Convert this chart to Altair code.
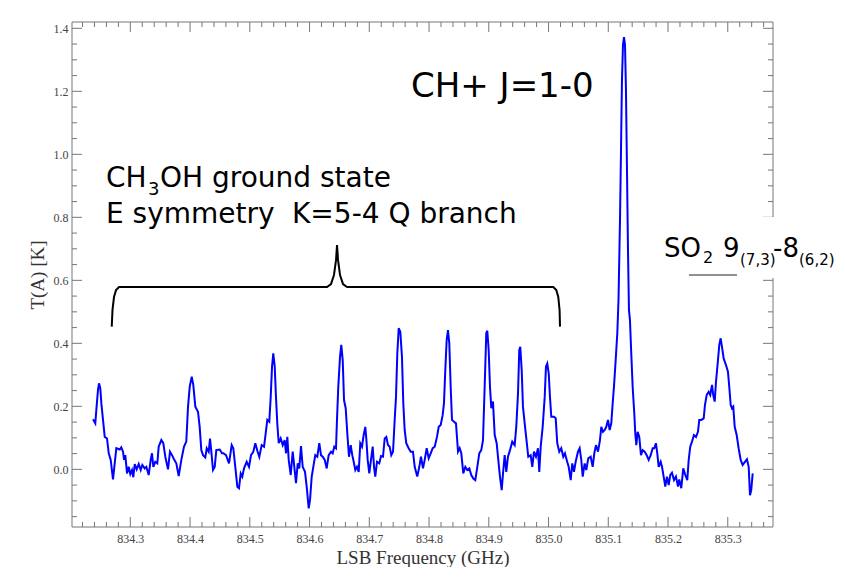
import altair as alt
import pandas as pd

# ---------------- data ----------------
freq = [
    834.2376, 834.2414, 834.2431, 834.2459, 834.2476, 834.2498, 834.2515, 834.2543, 834.2572, 834.2610,
    834.2639, 834.2672, 834.2710, 834.2739, 834.2766, 834.2823, 834.2849, 834.2878, 834.2895, 834.2916,
    834.2945, 834.2973, 834.3000, 834.3028, 834.3050, 834.3074, 834.3107, 834.3141, 834.3174, 834.3201,
    834.3241, 834.3268, 834.3308, 834.3341, 834.3363, 834.3385, 834.3418, 834.3452, 834.3475, 834.3519,
    834.3552, 834.3586, 834.3631, 834.3664, 834.3698, 834.3731, 834.3770, 834.3810, 834.3854, 834.3899,
    834.3937, 834.3966, 834.3994, 834.4028, 834.4054, 834.4088, 834.4133, 834.4161, 834.4188, 834.4217,
    834.4255, 834.4279, 834.4312, 834.4334, 834.4356, 834.4384, 834.4413, 834.4439, 834.4496, 834.4535,
    834.4556,
    834.4602, 834.4652, 834.4697, 834.4724, 834.4757, 834.4791, 834.4819, 834.4848, 834.4874, 834.4903,
    834.4948, 834.4987, 834.5020, 834.5059, 834.5092, 834.5126, 834.5159, 834.5199, 834.5238, 834.5266,
    834.5293, 834.5326, 834.5350, 834.5372, 834.5393, 834.5417, 834.5438, 834.5460, 834.5484, 834.5517,
    834.5551, 834.5584, 834.5606, 834.5628, 834.5651, 834.5685, 834.5718, 834.5745, 834.5773, 834.5802,
    834.5828, 834.5857, 834.5885, 834.5924, 834.5952, 834.5986, 834.6008, 834.6036, 834.6063, 834.6096,
    834.6130, 834.6163, 834.6192, 834.6220, 834.6254, 834.6287, 834.6320, 834.6359, 834.6387, 834.6414,
    834.6443, 834.6459, 834.6481, 834.6510, 834.6531, 834.6555, 834.6577, 834.6605, 834.6632, 834.6660,
    834.6689, 834.6715,
    834.6739, 834.6766, 834.6794, 834.6823, 834.6849, 834.6878, 834.6906, 834.6933, 834.6950, 834.6973,
    834.7000, 834.7028, 834.7057, 834.7079, 834.7100, 834.7129, 834.7167, 834.7196, 834.7229, 834.7258,
    834.7285, 834.7313, 834.7341, 834.7368, 834.7397, 834.7425, 834.7447, 834.7469, 834.7492, 834.7519,
    834.7547, 834.7569, 834.7592, 834.7619, 834.7659, 834.7693, 834.7731, 834.7760, 834.7803, 834.7837,
    834.7865, 834.7899, 834.7927, 834.7961, 834.7994, 834.8028, 834.8061, 834.8095, 834.8133, 834.8162,
    834.8195, 834.8228, 834.8250, 834.8272, 834.8295, 834.8317, 834.8339, 834.8362, 834.8384, 834.8418,
    834.8451, 834.8485, 834.8513, 834.8540, 834.8573, 834.8607, 834.8640, 834.8674, 834.8707, 834.8741,
    834.8774, 834.8808, 834.8841, 834.8874, 834.8903, 834.8931, 834.8958,
    834.8975, 834.8998, 834.9020, 834.9042, 834.9070, 834.9099, 834.9132, 834.9159, 834.9187, 834.9216,
    834.9243, 834.9266, 834.9293, 834.9321, 834.9355, 834.9393, 834.9433, 834.9460, 834.9489, 834.9510,
    834.9527, 834.9551, 834.9572, 834.9601, 834.9628, 834.9661, 834.9701, 834.9728, 834.9757, 834.9790,
    834.9823, 834.9845, 834.9869, 834.9902, 834.9936, 834.9957, 834.9979, 835.0003, 835.0024, 835.0046,
    835.0091, 835.0120, 835.0146, 835.0180, 835.0213, 835.0247, 835.0275, 835.0304, 835.0337, 835.0371,
    835.0397, 835.0426, 835.0454, 835.0493, 835.0521, 835.0548, 835.0572, 835.0605, 835.0632, 835.0665,
    835.0705, 835.0739, 835.0766, 835.0794, 835.0828, 835.0861, 835.0883, 835.0911, 835.0940, 835.0967,
    835.0995, 835.1023, 835.1050, 835.1074, 835.1095, 835.1124, 835.1151, 835.1171, 835.1196, 835.1213,
    835.1229, 835.1246, 835.1263, 835.1280, 835.1296, 835.1313, 835.1330, 835.1346, 835.1363, 835.1380,
    835.1408, 835.1435, 835.1452, 835.1469, 835.1492, 835.1519, 835.1547, 835.1576, 835.1609, 835.1643,
    835.1676, 835.1710, 835.1743, 835.1770, 835.1798, 835.1820, 835.1844, 835.1877, 835.1899, 835.1927,
    835.1954, 835.1982, 835.2011, 835.2038, 835.2066, 835.2100, 835.2133, 835.2167, 835.2188, 835.2222,
    835.2255, 835.2289, 835.2322, 835.2346, 835.2372, 835.2401, 835.2434, 835.2468, 835.2501, 835.2523,
    835.2556, 835.2597, 835.2618, 835.2647, 835.2680, 835.2707, 835.2736, 835.2757, 835.2781, 835.2803,
    835.2831, 835.2858, 835.2881, 835.2903, 835.2931, 835.2970, 835.3003, 835.3025, 835.3049, 835.3070,
    835.3092, 835.3116, 835.3149, 835.3182, 835.3216, 835.3249, 835.3288, 835.3321, 835.3350, 835.3372,
    835.3393, 835.3417,
]

temp = [
    0.159, 0.146, 0.188, 0.252, 0.273, 0.257, 0.210, 0.157, 0.103, 0.098,
    0.051, 0.030, -0.032, 0.019, 0.067, 0.063, 0.070, 0.056, 0.030, 0.045,
    -0.013, 0.008, -0.015, -0.002, -0.025, 0.017, 0.000, 0.017, -0.002, 0.014,
    0.003, 0.008, -0.018, 0.030, 0.051, 0.008, 0.024, 0.019, 0.072, 0.093,
    0.083, 0.040, 0.000, 0.056, 0.045, 0.032, 0.019, -0.021, 0.030, 0.072,
    0.088, 0.199, 0.262, 0.294, 0.268, 0.199, 0.183, 0.135, 0.061, 0.045,
    0.038, 0.067, 0.056, 0.098, 0.056, -0.002, 0.008, 0.061, 0.063, 0.051,
    0.051,
    0.045, 0.019, 0.077, 0.067, 0.008, -0.055, -0.060, -0.013, -0.023, 0.003,
    0.024, 0.008, 0.045, 0.056, 0.083, 0.059, 0.040, 0.077, 0.072, 0.114,
    0.157, 0.151, 0.230, 0.326, 0.368, 0.326, 0.230, 0.146, 0.083, 0.098,
    0.077, 0.093, 0.051, 0.103, 0.030, -0.018, 0.056, 0.008, -0.044, 0.019,
    0.003, 0.074, 0.008, -0.008, -0.055, -0.124, -0.097, -0.023, 0.008, 0.045,
    0.040, 0.083, 0.045, 0.040, 0.030, 0.003, 0.045, 0.056, 0.051, 0.072,
    0.067, 0.157, 0.262, 0.357, 0.395, 0.347, 0.220, 0.194, 0.114, 0.040,
    0.077, 0.045,
    0.024, -0.002, 0.008, -0.008, 0.083, 0.072, 0.109, 0.135, 0.098, 0.030,
    -0.013, 0.030, 0.072, 0.008, -0.023, 0.024, 0.019, 0.042, 0.040, 0.098,
    0.103, 0.077, 0.072, 0.045, 0.056, 0.157, 0.230, 0.368, 0.448, 0.437,
    0.357, 0.210, 0.125, 0.083, 0.067, 0.056, 0.056, 0.008, -0.023, 0.008,
    0.040, 0.003, 0.030, 0.067, 0.035, 0.051, 0.067, 0.072, 0.103, 0.135,
    0.141, 0.172, 0.210, 0.315, 0.410, 0.442, 0.400, 0.262, 0.157, 0.151,
    0.146, 0.056, 0.067, 0.051, -0.013, 0.008, -0.002, 0.003, -0.018, -0.029,
    -0.034, 0.008, 0.051, 0.061, 0.093, 0.262, 0.432,
    0.440, 0.379, 0.262, 0.194, 0.215, 0.109, 0.083, 0.030, -0.023, -0.066,
    -0.002, 0.045, -0.008, 0.040, 0.061, 0.088, 0.077, 0.135, 0.241, 0.379,
    0.389, 0.315, 0.199, 0.146, 0.098, 0.040, 0.045, 0.008, 0.056, 0.040,
    0.067, -0.008, 0.072, 0.135, 0.230, 0.326, 0.336, 0.305, 0.230, 0.167,
    0.167, 0.162, 0.083, 0.056, 0.067, 0.040, 0.051, 0.030, 0.008, -0.034,
    0.019, -0.008, 0.024, 0.056, 0.067, 0.030, -0.023, 0.019, -0.002, 0.035,
    0.040, 0.008, 0.051, 0.077, 0.056, 0.093, 0.135, 0.119, 0.125, 0.135,
    0.157, 0.125, 0.146, 0.210, 0.262, 0.347, 0.432, 0.537, 0.791, 1.014,
    1.236, 1.347, 1.372, 1.347, 1.204, 0.950, 0.696, 0.506, 0.474, 0.389,
    0.262, 0.178, 0.114, 0.077, 0.119, 0.103, 0.045, 0.061, 0.056, 0.045,
    0.030, 0.045, 0.067, 0.067, 0.083, 0.051, 0.008, 0.024, 0.008, -0.023,
    -0.055, -0.023, -0.050, -0.018, -0.011, -0.034, -0.023, -0.055, -0.032, -0.060,
    0.003, -0.018, -0.034, 0.030, 0.072, 0.088, 0.109, 0.103, 0.119, 0.157,
    0.157, 0.162, 0.204, 0.236, 0.246, 0.236, 0.268, 0.236, 0.215, 0.278,
    0.336, 0.395, 0.416, 0.389, 0.352, 0.331, 0.310, 0.262, 0.204, 0.194,
    0.199, 0.135, 0.109, 0.067, 0.030, 0.014, 0.024, 0.032, 0.008, -0.082,
    -0.066, -0.013,
]

# bracket over the CH3OH lines (data coordinates)
brace_f = [834.2689, 834.2702, 834.2727, 834.2761, 834.2811, 834.6292, 834.6359, 834.6409,
           834.6443, 834.6460, 834.6477, 834.6510, 834.6560, 834.6627, 835.0080, 835.0130,
           835.0163, 835.0185, 835.0192]
brace_t = [0.453, 0.506, 0.547, 0.569, 0.579, 0.579, 0.588, 0.617,
           0.664, 0.712, 0.664, 0.617, 0.588, 0.579, 0.579, 0.569,
           0.547, 0.506, 0.453]

# tick values
x_major = [834.3, 834.4, 834.5, 834.6, 834.7, 834.8, 834.9, 835.0, 835.1, 835.2, 835.3]
x_minor = [834.22, 834.24, 834.26, 834.28, 834.32, 834.34, 834.36, 834.38, 834.42, 834.44,
           834.46, 834.48, 834.52, 834.54, 834.56, 834.58, 834.62, 834.64, 834.66, 834.68,
           834.72, 834.74, 834.76, 834.78, 834.82, 834.84, 834.86, 834.88, 834.92, 834.94,
           834.96, 834.98, 835.02, 835.04, 835.06, 835.08, 835.12, 835.14, 835.16, 835.18,
           835.22, 835.24, 835.26, 835.28, 835.32, 835.34, 835.36]
y_major = [0.0, 0.2, 0.4, 0.6, 0.8, 1.0, 1.2, 1.4]
y_minor = [-0.15, -0.1, -0.05, 0.05, 0.1, 0.15, 0.25, 0.3, 0.35, 0.45, 0.5, 0.55,
           0.65, 0.7, 0.75, 0.85, 0.9, 0.95, 1.05, 1.1, 1.15, 1.25, 1.3, 1.35]

# ---------------- layout / style ----------------
W, H = 701, 505
PAD_R = 64
FRAME = "#777777"
SERIF = "Liberation Serif"
SANS = "DejaVu Sans"

xs = alt.Scale(domain=[834.2024, 835.3757], nice=False, zero=False)
ys = alt.Scale(domain=[-0.183, 1.420], nice=False, zero=False)

x_axis = alt.Axis(
    values=x_major, format=".1f", title="LSB Frequency (GHz)",
    ticks=False, domain=False, grid=False, labelFlush=False,
    labelFont=SERIF, labelFontSize=12, labelColor="#444", labelPadding=6,
    titleFont=SERIF, titleFontSize=19, titleFontWeight="normal",
    titleColor="#333", titlePadding=4)
y_axis = alt.Axis(
    values=y_major, format=".1f", title="T(A) [K]",
    ticks=False, domain=False, grid=False, labelFlush=False,
    labelFont=SERIF, labelFontSize=12, labelColor="#444", labelPadding=4,
    titleFont=SERIF, titleFontSize=19, titleFontWeight="normal",
    titleColor="#333", titlePadding=6)

X = alt.X("f:Q", scale=xs, axis=x_axis)
Y = alt.Y("t:Q", scale=ys, axis=y_axis)

spec_df = pd.DataFrame({"f": freq, "t": temp, "i": list(range(len(freq)))})
brace_df = pd.DataFrame({"f": brace_f, "t": brace_t, "i": list(range(len(brace_f)))})
dummy = pd.DataFrame({"d": [0]})

spectrum = alt.Chart(spec_df).mark_line(color="#0000ff", strokeWidth=2).encode(
    x=X, y=Y, order="i:Q"
)

frame = alt.Chart(dummy).mark_rect(fillOpacity=0, stroke=FRAME, strokeWidth=1).encode(
    x=alt.value(0), x2=alt.value(W), y=alt.value(0), y2=alt.value(H)
)


def xticks(values, length):
    d = pd.DataFrame({"f": values})
    bottom = alt.Chart(d).mark_rule(color=FRAME, strokeWidth=1).encode(
        x=X, y=alt.value(H), y2=alt.value(H - length))
    top = alt.Chart(d).mark_rule(color=FRAME, strokeWidth=1).encode(
        x=X, y=alt.value(0), y2=alt.value(length))
    return [bottom, top]


def yticks(values, length):
    d = pd.DataFrame({"t": values})
    left = alt.Chart(d).mark_rule(color=FRAME, strokeWidth=1).encode(
        y=Y, x=alt.value(0), x2=alt.value(length))
    right = alt.Chart(d).mark_rule(color=FRAME, strokeWidth=1).encode(
        y=Y, x=alt.value(W), x2=alt.value(W - length))
    return [left, right]


brace = alt.Chart(brace_df).mark_line(color="black", strokeWidth=2).encode(
    x=X, y=Y, order="i:Q"
)

label_box = alt.Chart(dummy).mark_rect(color="white").encode(
    x=alt.value(583), x2=alt.value(W + PAD_R), y=alt.value(195), y2=alt.value(256)
)
underline = alt.Chart(dummy).mark_rule(color="#222222", strokeWidth=1).encode(
    x=alt.value(617), x2=alt.value(665), y=alt.value(253)
)


def txt(s, x, y, size):
    return alt.Chart(dummy).mark_text(
        text=s, align="left", baseline="alphabetic", font=SANS,
        fontSize=size, color="black"
    ).encode(x=alt.value(x), y=alt.value(y))


texts = [
    txt("CH+ J=1-0", 339, 75, 34),
    txt("CH", 34, 165, 28),
    txt("3", 76, 173, 18),
    txt("OH ground state", 88, 165, 28),
    txt("E symmetry", 34, 201, 28),
    txt("K=5-4 Q branch", 220, 201, 28),
    txt("SO", 592, 235, 26),
    txt("2", 631, 241, 16),
    txt("9", 651, 235, 26),
    txt("(7,3)", 668, 243, 15),
    txt("-8", 701, 235, 26),
    txt("(6,2)", 727, 243, 15),
]

layers = ([spectrum, frame] + xticks(x_minor, 5) + xticks(x_major, 10) + yticks(y_minor, 5)
          + yticks(y_major, 10) + [brace, label_box, underline] + texts)

chart = alt.layer(*layers).properties(
    width=W, height=H,
    autosize=alt.AutoSizeParams(type="none"),
    padding={"left": 64, "top": 14, "right": PAD_R, "bottom": 40},
    background="white",
).configure_view(strokeWidth=0)

chart.save("out.html", embed_options={"renderer": "svg", "actions": False})
